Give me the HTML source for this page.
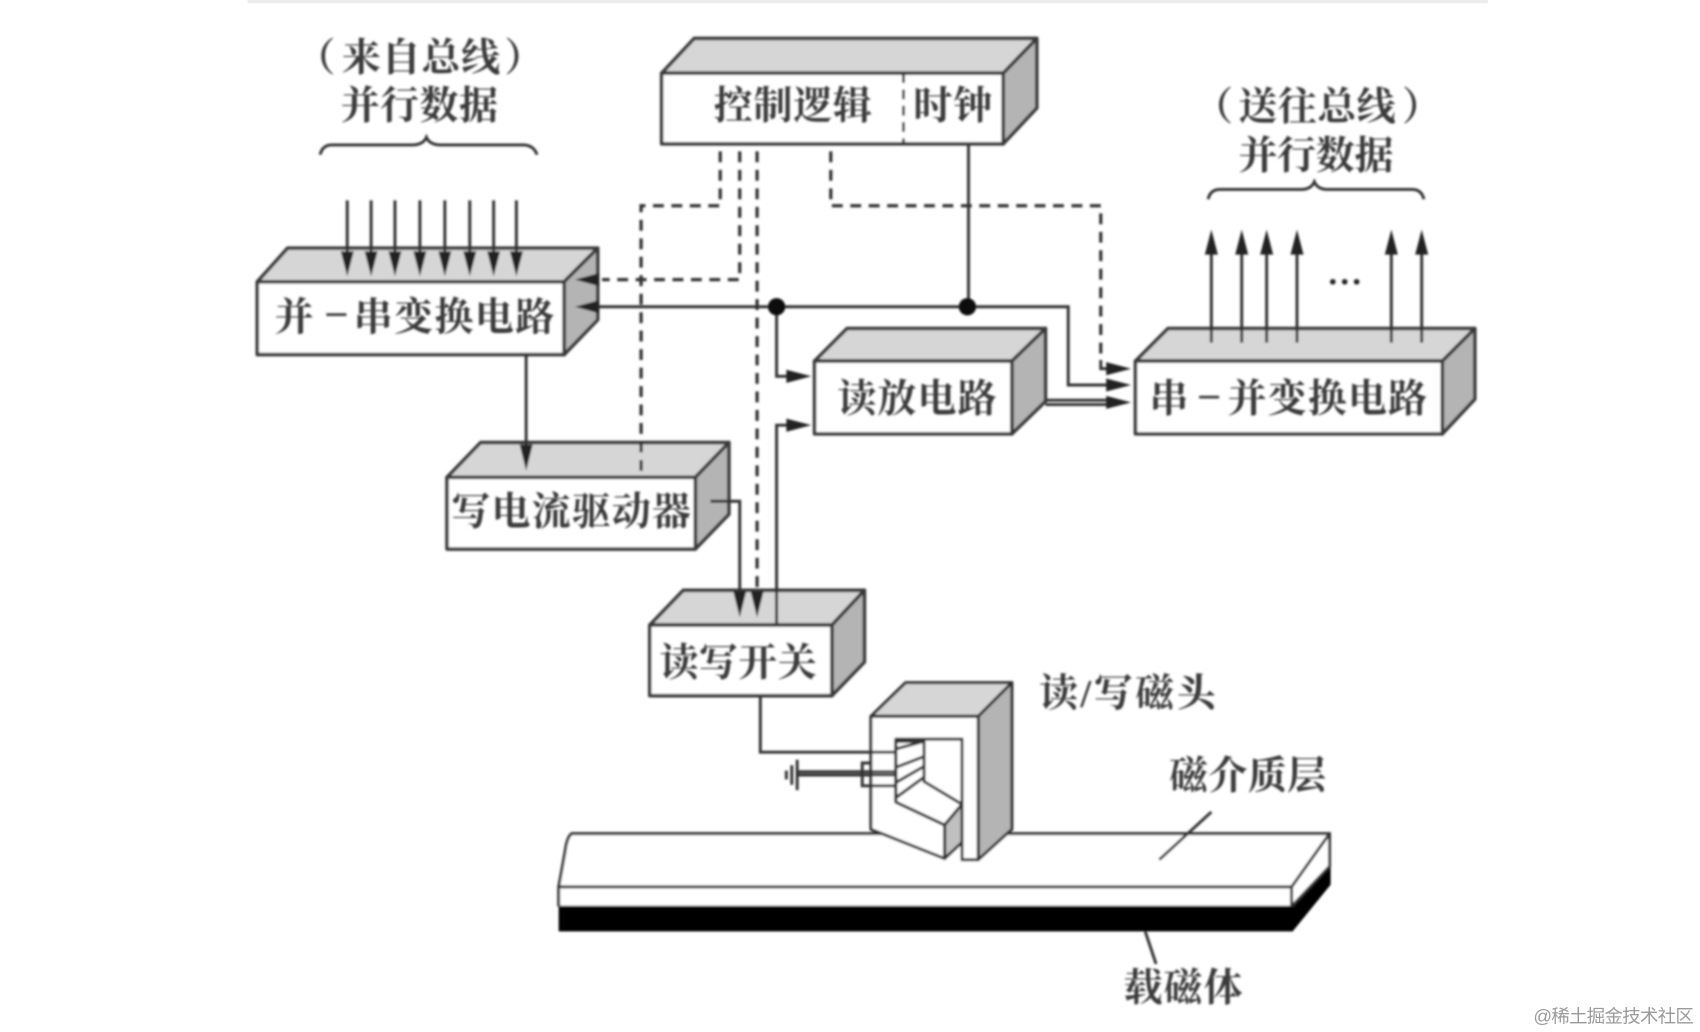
<!DOCTYPE html>
<html lang="zh">
<head>
<meta charset="utf-8">
<title>磁盘读写原理图</title>
<style>
html,body{margin:0;padding:0;background:#fff;width:1700px;height:1032px;overflow:hidden}
svg{display:block}
.t{font-family:"Liberation Serif","Noto Serif CJK SC",serif;font-size:36px;font-weight:700;fill:#3a3a3a}
.w{font-family:"Liberation Sans","Noto Sans CJK SC",sans-serif;font-size:17px;fill:#9a9a9a}
.box{stroke:#3a3a3a;stroke-width:3.3;stroke-linejoin:round}
.l{fill:none;stroke:#333;stroke-width:2.7}
.d{fill:none;stroke:#333;stroke-width:3;stroke-dasharray:10 7}
</style>
</head>
<body>
<svg width="1700" height="1032" viewBox="-0.3 0.6 1568 950" preserveAspectRatio="none" xmlns="http://www.w3.org/2000/svg">
<defs>
<filter id="b" x="-5%" y="-5%" width="110%" height="110%"><feGaussianBlur stdDeviation="0.95"/></filter>
<filter id="bt" x="-5%" y="-5%" width="110%" height="110%"><feGaussianBlur stdDeviation="1.1"/></filter>
</defs>
<rect x="228" y="-2" width="1144" height="5.5" fill="#ececec"/>
<g filter="url(#b)">
<!-- boxes -->
<g class="box">
<path d="M237 260L265 229H551L520 260Z" fill="#d6d6d6"/><path d="M520 260L551 229V295L520 327Z" fill="#b4b4b4"/><rect x="237" y="260" width="283" height="67" fill="#fff"/>
<path d="M610 68L640 36H956L925 68Z" fill="#d6d6d6"/><path d="M925 68L956 36V100L925 133Z" fill="#b4b4b4"/><rect x="610" y="68" width="315" height="65" fill="#fff"/>
<path d="M751 333L781 303H964L933 333Z" fill="#d6d6d6"/><path d="M933 333L964 303V370L933 400Z" fill="#b4b4b4"/><rect x="751" y="333" width="182" height="67" fill="#fff"/>
<path d="M1047 333L1077 303H1360L1330 333Z" fill="#d6d6d6"/><path d="M1330 333L1360 303V368L1330 400Z" fill="#b4b4b4"/><rect x="1047" y="333" width="283" height="67" fill="#fff"/>
<path d="M412 440L443 408H672L641 440Z" fill="#d6d6d6"/><path d="M641 440L672 408V474L641 506Z" fill="#b4b4b4"/><rect x="412" y="440" width="229" height="66" fill="#fff"/>
<path d="M599 576L630 544H797L767 576Z" fill="#d6d6d6"/><path d="M767 576L797 544V610L767 641Z" fill="#b4b4b4"/><rect x="599" y="576" width="168" height="65" fill="#fff"/>
</g>
<path d="M833 68V133" fill="none" stroke="#333" stroke-width="2.6" stroke-dasharray="9 6"/>
<!-- dashed connectors -->
<path class="d" d="M664 140V190H591V438"/>
<path class="d" d="M682 140V258H555"/>
<path class="d" d="M698 140V548"/>
<path class="d" d="M766 140V190H1015V332"/>
<path class="l" d="M1015 332V340H1025"/>
<!-- solid connectors -->
<path class="l" d="M893 133V283"/>
<path class="l" d="M545 283H985V355H1025"/>
<path class="l" d="M716 283V347H730"/>
<path class="l" d="M716 576V392H730"/>
<path class="l" d="M964 369H1025M964 373H1025" stroke-width="2.2"/>
<path class="l" d="M485 327V412"/>
<path class="l" d="M655 462H682V548"/>
<circle cx="716" cy="283" r="8" fill="#111"/><circle cx="892" cy="283" r="8" fill="#111"/>
<!-- heads -->
<g fill="#222">
<path d="M530 258L552 252V264Z"/><path d="M530 283L552 277V289Z"/>
<path d="M748 347L725 341V353Z"/><path d="M748 392L725 386V398Z"/>
<path d="M1043 340L1020 334V346Z"/><path d="M1043 355L1020 349V361Z"/><path d="M1043 371L1020 365V377Z"/>
<path d="M485 434L479 410H491Z"/><path d="M682 569L676 545H688Z"/><path d="M698 569L692 545H704Z"/>
</g>
<!-- input arrows -->
<g class="l">
<path d="M320 185V236M342 185V236M364 185V236M387 185V236M410 185V236M433 185V236M455 185V236M476 185V236"/>
<path d="M1117 316V232M1145 316V232M1168 316V232M1196 316V232M1283 316V232M1311 316V232"/>
</g>
<g fill="#222">
<path d="M320 255L314 232H326ZM342 255L336 232H348ZM364 255L358 232H370ZM387 255L381 232H393ZM410 255L404 232H416ZM433 255L427 232H439ZM455 255L449 232H461ZM476 255L470 232H482Z"/>
<path d="M1117 212L1111 235H1123ZM1145 212L1139 235H1151ZM1168 212L1162 235H1174ZM1196 212L1190 235H1202ZM1283 212L1277 235H1289ZM1311 212L1305 235H1317Z"/>
<circle cx="1229" cy="260" r="2.6"/><circle cx="1240" cy="260" r="2.6"/><circle cx="1251" cy="260" r="2.6"/>
</g>
<!-- braces -->
<path class="l" d="M295 143Q297 134 306 134H380Q390 134 393 127Q396 134 406 134H482Q492 134 495 143" stroke-width="2.2"/>
<path class="l" d="M1114 184Q1116 175 1125 175H1200Q1209 175 1212 168Q1215 175 1224 175H1302Q1311 175 1313 184" stroke-width="2.2"/>
<!-- tape -->
<path d="M515 835H1192L1227 798V815L1192 858H515Z" fill="#000"/>
<path d="M527 768H1226V798L1191 835H515V817Q520 790 522 778Q524 770 527 768Z" fill="#fff"/>
<path class="l" d="M515 835V817Q520 790 522 778Q524 770 527 768H1226V798L1191 835M1226 768L1191 817V835M515 817H1191" stroke-width="2.8"/>
<path d="M515 835H1192" stroke="#222" stroke-width="1.5"/>
<path class="l" d="M1117 748L1069 792M1056 858L1066 888"/>
<!-- head -->
<g stroke="#333" stroke-width="2.8" stroke-linejoin="round">
<path d="M803 660L835 629H933L902 660Z" fill="#d6d6d6"/>
<path d="M902 660L933 629V764L902 792Z" fill="#b4b4b4"/>
<path d="M803 660H902V792H887V681H826V739L871 760V791L803 764Z" fill="#fff"/>
<path d="M826 681H887V792H871V760L826 739Z" fill="#fff" stroke="none"/>
<path d="M826 681H887V792M826 681V739" fill="none"/>
<path d="M826 739L871 760L887 741L852 720V683H826Z" fill="#fff"/>
<path d="M871 760L887 741V776L871 791Z" fill="#c0c0c0"/>
<path d="M826 690L852 683M826 707L852 697M826 721L852 706M826 735L852 716" fill="none"/>
</g>
<path d="M701 641V693H826" class="l"/>
<path d="M735 711H826M735 714H826" class="l" stroke-width="2"/>
<path d="M803 703H795V724H826" class="l" stroke-width="2"/>
<path d="M735 700V728M730 705V723M725 710V718" class="l" stroke-width="2"/>
</g>
<!-- labels -->
<g class="t" filter="url(#bt)">
<text x="273" y="66">（</text>
<text x="315" y="66" textLength="146" lengthAdjust="spacing">来自总线</text>
<text x="465" y="66">）</text>
<text x="314" y="110" textLength="145" lengthAdjust="spacing">并行数据</text>
<text x="658" y="110" textLength="146" lengthAdjust="spacing">控制逻辑</text>
<text x="842" y="110" textLength="73" lengthAdjust="spacing">时钟</text>
<text x="1101" y="111">（</text>
<text x="1142" y="111" textLength="145" lengthAdjust="spacing">送往总线</text>
<text x="1293" y="111">）</text>
<text x="1142" y="156" textLength="143" lengthAdjust="spacing">并行数据</text>
<text x="253" y="305">并</text>
<text x="301" y="299">–</text>
<text x="326" y="305" textLength="185" lengthAdjust="spacing">串变换电路</text>
<text x="772" y="380" textLength="147" lengthAdjust="spacing">读放电路</text>
<text x="1060" y="380">串</text>
<text x="1106" y="375">–</text>
<text x="1132" y="380" textLength="184" lengthAdjust="spacing">并变换电路</text>
<text x="416" y="484" textLength="221" lengthAdjust="spacing">写电流驱动器</text>
<text x="608" y="623" textLength="145" lengthAdjust="spacing">读写开关</text>
<text x="958" y="651" textLength="163" lengthAdjust="spacing">读/写磁头</text>
<text x="1078" y="727" textLength="145" lengthAdjust="spacing">磁介质层</text>
<text x="1036" y="922" textLength="110" lengthAdjust="spacing">载磁体</text>
</g>
<text class="w" x="1414" y="942" textLength="148" lengthAdjust="spacing">@稀土掘金技术社区</text>
</svg>
</body>
</html>
